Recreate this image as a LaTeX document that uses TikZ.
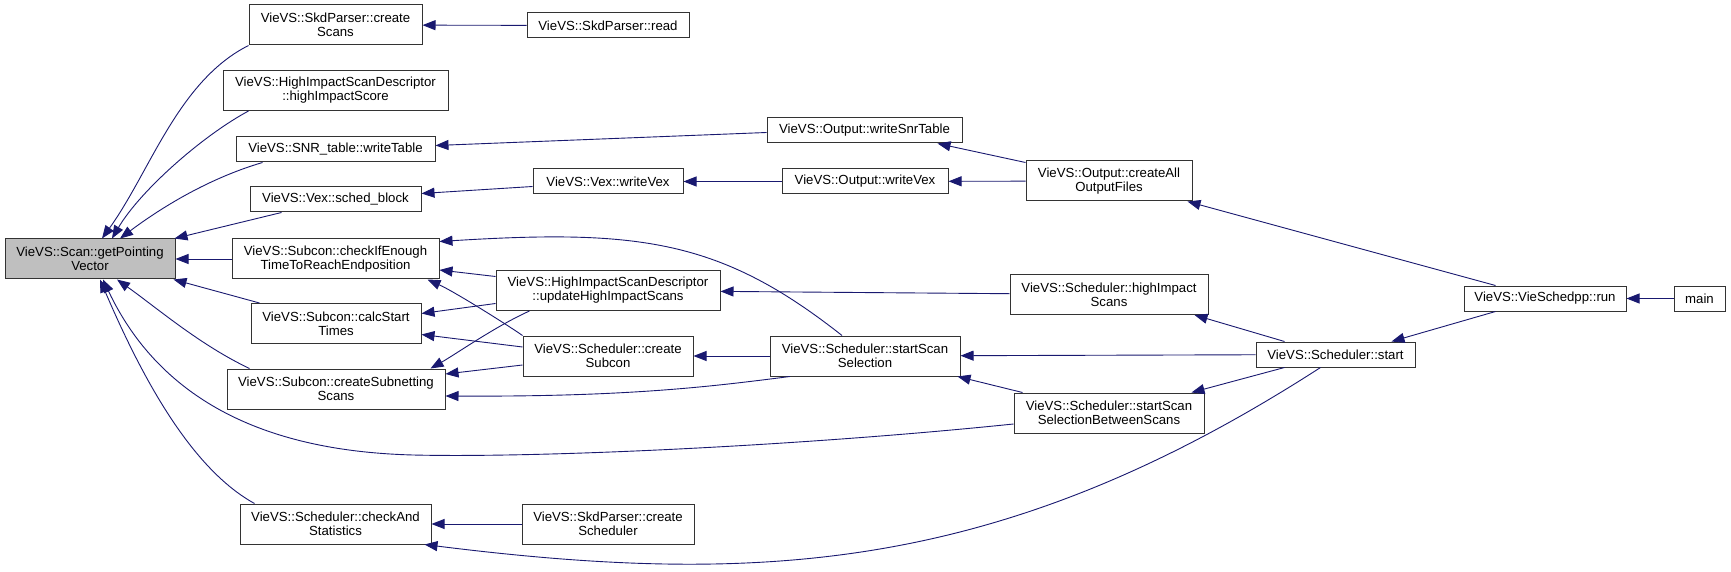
\documentclass[tikz,border=0pt]{standalone}
\usepackage{fontspec}
\setmainfont{Liberation Sans}
\usepackage{tikz}
\usetikzlibrary{arrows.meta}
\usepackage{xcolor}
\definecolor{edgeblue}{RGB}{25, 25, 112}

\begin{document}
\begin{tikzpicture}[
        x=1pt, y=1pt,
        box/.style = {draw=black!80, line width=1pt, fill=white, minimum height=25pt, inner sep=0pt, align=center, font=\fontsize{13.2}{14}\selectfont},
        tall/.style = {minimum height=40pt},
        root/.style = {fill=black!25},
        arrow/.style = {-{Triangle[length=13pt, width=10pt]}, edgeblue, line width=0.9pt},
    ]
        \path[use as bounding box, fill=white] (0,0) rectangle (1731,571);
        \node[box, tall, root, minimum width=170pt] (gpv) at (90,312) {VieVS::Scan::getPointing\\Vector};
        \node[box, tall, minimum width=173pt] (cs) at (335.5,546) {VieVS::SkdParser::create\\Scans};
        \node[box, minimum width=162pt] (rd) at (608,545.5) {VieVS::SkdParser::read};
        \node[box, tall, minimum width=225pt] (his) at (335.5,480.5) {VieVS::HighImpactScanDescriptor\\::highImpactScore};
        \node[box, minimum width=199pt] (wt) at (335.5,421.5) {VieVS::SNR\_table::writeTable};
        \node[box, minimum width=171pt] (sb) at (335.5,371.5) {VieVS::Vex::sched\_block};
        \node[box, tall, minimum width=207pt] (cie) at (335.5,312) {VieVS::Subcon::checkIfEnough\\TimeToReachEndposition};
        \node[box, tall, minimum width=170pt] (cst) at (336,247.5) {VieVS::Subcon::calcStart\\Times};
        \node[box, tall, minimum width=218pt] (css) at (336,182) {VieVS::Subcon::createSubnetting\\Scans};
        \node[box, tall, minimum width=191pt] (cas) at (335.5,47) {VieVS::Scheduler::checkAnd\\Statistics};
        \node[box, minimum width=150pt] (vwv) at (608,389.5) {VieVS::Vex::writeVex};
        \node[box, tall, minimum width=224pt] (uhis) at (608,280.5) {VieVS::HighImpactScanDescriptor\\::updateHighImpactScans};
        \node[box, tall, minimum width=170pt] (csc) at (608,215) {VieVS::Scheduler::create\\Subcon};
        \node[box, tall, minimum width=172pt] (csch) at (608,47) {VieVS::SkdParser::create\\Scheduler};
        \node[box, minimum width=195pt] (owst) at (864.5,440.5) {VieVS::Output::writeSnrTable};
        \node[box, minimum width=166pt] (owv) at (865,389.5) {VieVS::Output::writeVex};
        \node[box, tall, minimum width=190pt] (sss) at (865,215) {VieVS::Scheduler::startScan\\Selection};
        \node[box, tall, minimum width=166pt] (caof) at (1109,390) {VieVS::Output::createAll\\OutputFiles};
        \node[box, tall, minimum width=198pt] (hisc) at (1109,276.5) {VieVS::Scheduler::highImpact\\Scans};
        \node[box, tall, minimum width=190pt] (ssbs) at (1109,158) {VieVS::Scheduler::startScan\\SelectionBetweenScans};
        \node[box, minimum width=159pt] (start) at (1335.5,216.5) {VieVS::Scheduler::start};
        \node[box, minimum width=162pt] (run) at (1545,272.5) {VieVS::VieSchedpp::run};
        \node[box, minimum width=51pt] (main) at (1699.5,272.5) {main};
        \draw[arrow] (cs.south west) .. controls (178,490) and (150,399) .. ([xshift=12pt]gpv.north);
        \draw[arrow] ([xshift=26pt]his.south west) .. controls (202,435) and (140,380) .. ([xshift=22pt]gpv.north);
        \draw[arrow] ([xshift=27pt]wt.south west) .. controls (203,391) and (154,358) .. ([xshift=30pt]gpv.north);
        \draw[arrow] ([xshift=32pt]sb.south west) -- ([xshift=-1pt]gpv.north east);
        \draw[arrow] (cie) -- (gpv);
        \draw[arrow] ([xshift=9pt]cst.north west) -- ([xshift=-2pt]gpv.south east);
        \draw[arrow] ([xshift=23pt]css.north west) .. controls (200,226) and (157,263) .. ([xshift=27pt]gpv.south);
        \draw[arrow] ([yshift=-11pt]ssbs.west) .. controls (800,125) and (540,113) .. (413,116) .. controls (300,119) and (170,150) .. ([xshift=13pt]gpv.south);
        \draw[arrow] ([xshift=15pt]cas.north west) .. controls (192,102) and (143,191) .. ([xshift=10pt]gpv.south);
        \draw[arrow] (rd) -- (cs);
        \draw[arrow] ([yshift=-2pt]owst.west) -- ([yshift=4pt]wt.east);
        \draw[arrow] ([yshift=-5pt]vwv.west) -- ([yshift=6pt]sb.east);
        \draw[arrow] (owv) -- (vwv);
        \draw[arrow] ([yshift=-2pt]caof.north west) -- ([xshift=-25pt]owst.south east);
        \draw[arrow] (caof) -- (owv);
        \draw[arrow] ([xshift=32pt]run.north west) -- ([xshift=-5pt]caof.south east);
        \draw[arrow] ([xshift=-23pt]sss.north) .. controls (721,331) and (640,342) .. ([yshift=-3pt]cie.north east);
        \draw[arrow] ([yshift=14pt]uhis.west) -- ([yshift=-11pt]cie.east);
        \draw[arrow] (csc.north west) .. controls (503,249) and (453,280) .. ([xshift=-12pt]cie.south east);
        \draw[arrow] ([yshift=-13pt]uhis.west) -- ([yshift=10pt]cst.east);
        \draw[arrow] ([yshift=9pt]csc.west) -- ([yshift=-11pt]cst.east);
        \draw[arrow] ([xshift=34pt]uhis.south west) .. controls (496,245) and (456,217) .. ([xshift=-15pt]css.north east);
        \draw[arrow] ([yshift=-9pt]csc.west) -- ([yshift=15pt]css.east);
        \draw[arrow] ([xshift=-75pt]sss.south) .. controls (715,185) and (632,174) .. ([yshift=-7pt]css.east);
        \draw[arrow] (hisc) -- (uhis);
        \draw[arrow] (sss) -- (csc);
        \draw[arrow] (start) -- (sss);
        \draw[arrow] ([xshift=9pt]ssbs.north west) -- ([xshift=-3pt]sss.south east);
        \draw[arrow] ([xshift=29pt]start.north west) -- ([xshift=-14pt]hisc.south east);
        \draw[arrow] ([xshift=29pt]start.south west) -- ([xshift=-13pt]ssbs.north east);
        \draw[arrow] ([xshift=-15pt]start.south) .. controls (1005,0) and (764,-16) .. ([xshift=-7pt]cas.south east);
        \draw[arrow] (csch) -- (cas);
        \draw[arrow] ([xshift=32pt]run.south west) -- ([xshift=-24pt]start.north east);
        \draw[arrow] (main) -- (run);
    \end{tikzpicture}
\end{document}
